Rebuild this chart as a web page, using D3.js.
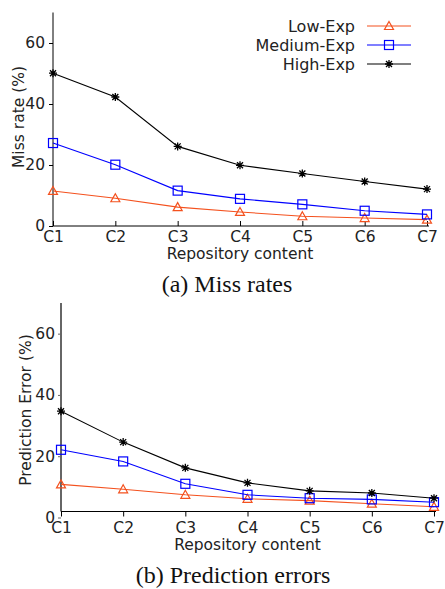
<!DOCTYPE html>
<html><head><meta charset="utf-8">
<script src="https://cdn.jsdelivr.net/npm/d3@7"></script>
<style>body{margin:0;background:#fff}svg{display:block}</style>
</head><body>
<svg id="c" width="445" height="589"></svg>
<script>
const categories = ["C1","C2","C3","C4","C5","C6","C7"];
const yTicks = [0,20,40,60];
const seriesNames = ["Low-Exp","Medium-Exp","High-Exp"];
const missLow = [11.5,9.1,6.2,4.6,3.2,2.6,2.1];
const missMedium = [27.2,20.1,11.6,8.9,7.1,5.0,3.8];
const missHigh = [50.1,42.3,26.1,19.9,17.2,14.6,12.1];
const predLow = [10.8,9.2,7.4,6.1,5.5,4.5,3.5];
const predMedium = [22.1,18.3,11.0,7.4,6.3,5.9,5.0];
const predHigh = [34.7,24.6,16.2,11.3,8.7,8.0,6.3];

const colors = ["#f4511e","#0000ff","#000000"];
const markers = ["tri","sq","star"];
const svg = d3.select("#c");
const sans = "DejaVu Sans";
const fs = 15.5;

function marker(g, type, x, y, color){
  if(type==="tri"){
    g.append("path").attr("d",`M${x},${y-4.5}L${x+4.5},${y+3.5}L${x-4.5},${y+3.5}Z`)
      .attr("fill","none").attr("stroke",color).attr("stroke-width",1.2);
  } else if(type==="sq"){
    g.append("rect").attr("x",x-4.5).attr("y",y-4.5).attr("width",9).attr("height",9)
      .attr("fill","none").attr("stroke",color).attr("stroke-width",1.2);
  } else {
    const r=4;
    g.append("path").attr("d",`M${x-r},${y}L${x+r},${y}M${x},${y-r}L${x},${y+r}M${x-r*0.75},${y-r*0.75}L${x+r*0.75},${y+r*0.75}M${x-r*0.75},${y+r*0.75}L${x+r*0.75},${y-r*0.75}`)
      .attr("stroke",color).attr("stroke-width",1.3);
  }
}

function panel(cfg){
  const x = d3.scalePoint().domain(categories).range([cfg.x0,cfg.x1]);
  const y = d3.scaleLinear().domain([0,70]).range([cfg.yb,cfg.yt]);
  const g = svg.append("g");
  const ya = g.append("g").attr("transform",`translate(${cfg.x0},0)`)
    .call(d3.axisLeft(y).tickValues(yTicks).tickSize(cfg.yTick).tickPadding(cfg.yPad).tickSizeOuter(0));
  ya.select(".domain").attr("stroke",cfg.yAxisColor).attr("stroke-width",cfg.yAxisW)
    .attr("d",`M0,${cfg.yt}V${cfg.xAxisY}`);
  ya.selectAll(".tick line").attr("stroke",cfg.yAxisColor);
  ya.selectAll("text").attr("font-family",sans).attr("font-size",fs).attr("fill","#222");
  const xa = g.append("g").attr("transform",`translate(0,${cfg.xAxisY})`)
    .call(d3.axisBottom(x).tickSize(cfg.xTick).tickPadding(0).tickSizeOuter(0));
  xa.select(".domain").attr("d",`M${cfg.x0},0H${cfg.x1+2}`).attr("stroke","#000");
  xa.selectAll(".tick text").attr("font-family",sans).attr("font-size",fs).attr("fill","#222")
    .attr("y",cfg.xLabY).attr("dy",0);
  cfg.data.forEach((vals,i)=>{
    const line = d3.line().x((d,j)=>x(categories[j])).y(d=>y(d));
    g.append("path").datum(vals).attr("d",line).attr("fill","none")
      .attr("stroke",colors[i]).attr("stroke-width",1.1);
    vals.forEach((v,j)=>marker(g,markers[i],x(categories[j]),y(v),colors[i]));
  });
  g.append("text").attr("x",(cfg.x0+cfg.x1)/2).attr("y",cfg.xTitleY).attr("text-anchor","middle")
    .attr("font-family",sans).attr("font-size",fs).attr("fill","#222").text("Repository content");
  g.append("text").attr("transform",`translate(${cfg.yTitleX},${cfg.yTitleCY}) rotate(-90)`)
    .attr("text-anchor","middle").attr("font-family",sans).attr("font-size",fs).attr("fill","#222").text(cfg.yTitle);
  g.append("text").attr("x",cfg.capX).attr("y",cfg.capY).attr("text-anchor","middle")
    .attr("font-family","Liberation Serif").attr("font-size",24).attr("fill","#111").text(cfg.caption);
  return {x,y};
}

panel({x0:53,x1:427,yb:226,yt:12.5,xAxisY:226,yTick:4,yPad:4,xTick:-5,xLabY:16,
  yAxisColor:"#000",yAxisW:1,data:[missLow,missMedium,missHigh],
  xTitleY:259,yTitle:"Miss rate (%)",yTitleX:24,yTitleCY:117,caption:"(a) Miss rates",capX:227,capY:292});
panel({x0:61,x1:434,yb:517.5,yt:303,xAxisY:511.5,yTick:3,yPad:3,xTick:5,xLabY:21,
  yAxisColor:"#666",yAxisW:2,data:[predLow,predMedium,predHigh],
  xTitleY:550,yTitle:"Prediction Error (%)",yTitleX:31,yTitleCY:410,caption:"(b) Prediction errors",capX:233,capY:583});

const lg = svg.append("g");
seriesNames.forEach((n,i)=>{
  const cy = 26 + i*19;
  lg.append("text").attr("x",355).attr("y",cy).attr("dy","0.36em").attr("text-anchor","end")
    .attr("font-family",sans).attr("font-size",16).attr("fill","#222").text(n);
  lg.append("line").attr("x1",367).attr("x2",411).attr("y1",cy).attr("y2",cy)
    .attr("stroke",colors[i]).attr("stroke-width",1.1);
  marker(lg,markers[i],389,cy,colors[i]);
});
</script>
</body></html>
